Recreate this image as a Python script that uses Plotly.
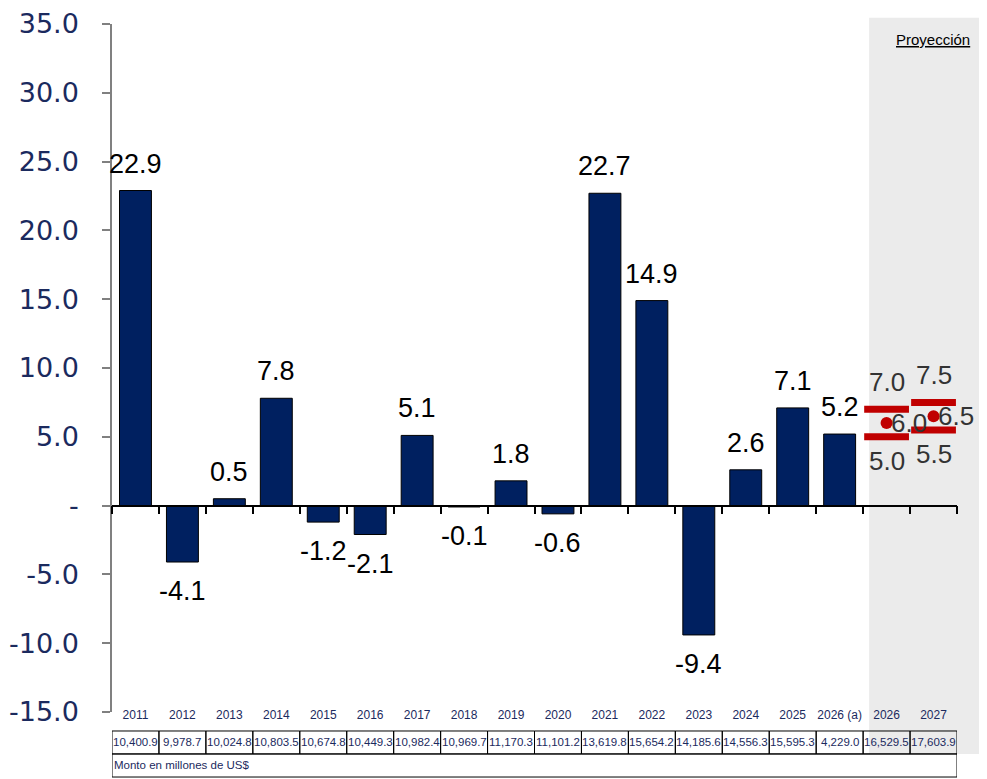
import plotly.graph_objects as go

# ---------------------------------------------------------------------------
# Data
# ---------------------------------------------------------------------------
YEARS = ["2011", "2012", "2013", "2014", "2015", "2016", "2017", "2018", "2019",
         "2020", "2021", "2022", "2023", "2024", "2025", "2026 (a)", "2026", "2027"]
GROWTH = [22.9, -4.1, 0.5, 7.8, -1.2, -2.1, 5.1, -0.1, 1.8,
          -0.6, 22.7, 14.9, -9.4, 2.6, 7.1, 5.2]
AMOUNTS = ["10,400.9", "9,978.7", "10,024.8", "10,803.5", "10,674.8", "10,449.3",
           "10,982.4", "10,969.7", "11,170.3", "11,101.2", "13,619.8", "15,654.2",
           "14,185.6", "14,556.3", "15,595.3", "4,229.0", "16,529.5", "17,603.9"]
PROJ_LOW = [5.0, 5.5]
PROJ_MID = [6.0, 6.5]
PROJ_HIGH = [7.0, 7.5]
Y_TICKS = [-15, -10, -5, 0, 5, 10, 15, 20, 25, 30, 35]
TABLE_NOTE = "Monto en millones de US$"

# ---------------------------------------------------------------------------
# Styles
# ---------------------------------------------------------------------------
NAVY = "#002060"
TEXT_NAVY = "#1B2A5E"
RED = "#C00000"
SHADE = "#EBEBEB"
PROJ_TEXT = "#333333"
FONT = "Liberation Sans, Arial, sans-serif"

Y_MIN, Y_MAX = -15, 35
idx = list(range(len(YEARS)))
bar_x = idx[:len(GROWTH)]
proj_x = idx[len(GROWTH):]
zero_pos = (0 - Y_MIN) / (Y_MAX - Y_MIN)

fig = go.Figure()

fig.add_trace(go.Bar(
    x=bar_x, y=GROWTH,
    width=0.68,
    marker=dict(color=NAVY, line=dict(color="black", width=1)),
    hoverinfo="x+y",
    showlegend=False,
))

# projection range: low / high bars, central dot
for vals in (PROJ_HIGH, PROJ_LOW):
    fig.add_trace(go.Scatter(
        x=proj_x, y=vals, mode="markers", cliponaxis=False,
        marker=dict(symbol="line-ew", size=32, line=dict(color=RED, width=7)),
        showlegend=False,
    ))
fig.add_trace(go.Scatter(
    x=proj_x, y=PROJ_MID, mode="markers", cliponaxis=False,
    marker=dict(symbol="circle", size=12, color=RED),
    showlegend=False,
))

# helper trace so the zero-line axis (x2) gets drawn
fig.add_trace(go.Scatter(
    x=bar_x, y=GROWTH, xaxis="x2", mode="markers",
    marker=dict(opacity=0), hoverinfo="skip", showlegend=False,
))

# value labels on bars
for x, v in zip(bar_x, GROWTH):
    fig.add_annotation(
        x=x, y=v, text=f"{v:.1f}", showarrow=False,
        yanchor="bottom" if v >= 0 else "top",
        yshift=10 if v >= 0 else -12,
        font=dict(size=27, color="black", family=FONT),
    )

# projection labels
proj_font = dict(size=26, color=PROJ_TEXT, family=FONT)
for x, lo, mid, hi in zip(proj_x, PROJ_LOW, PROJ_MID, PROJ_HIGH):
    fig.add_annotation(x=x, y=hi, text=f"{hi:.1f}", showarrow=False,
                       yanchor="bottom", yshift=10, font=proj_font)
    fig.add_annotation(x=x, y=lo, text=f"{lo:.1f}", showarrow=False,
                       yanchor="top", yshift=-7, font=proj_font)
    fig.add_annotation(x=x, y=mid, text=f"{mid:.1f}", showarrow=False,
                       xanchor="left", yanchor="middle", xshift=2, font=proj_font)

# projection shading
row1_top, row1_bot, row2_bot = -0.0276, -0.061, -0.0945
fig.add_shape(type="rect", layer="below", xref="paper", yref="paper",
              x0=0.896, x1=1.04, y0=row1_bot, y1=1.009,
              fillcolor=SHADE, line=dict(width=0))
fig.add_annotation(xref="paper", yref="paper", x=0.9716, y=0.977,
                   xanchor="center", yanchor="middle",
                   text="<u>Proyección</u>", showarrow=False,
                   font=dict(size=15, color="black", family=FONT))

# amounts table under the axis
for x, amt in zip(idx, AMOUNTS):
    fig.add_shape(type="rect", xref="x", yref="paper",
                  x0=x - 0.5, x1=x + 0.5, y0=row1_bot, y1=row1_top,
                  line=dict(color="black", width=1))
    fig.add_annotation(xref="x", yref="paper", x=x, y=(row1_top + row1_bot) / 2,
                       text=amt, showarrow=False, yanchor="middle",
                       font=dict(size=11.5, color=TEXT_NAVY, family=FONT))
fig.add_shape(type="rect", xref="x", yref="paper",
              x0=idx[0] - 0.5, x1=idx[-1] + 0.5, y0=row2_bot, y1=row1_bot,
              line=dict(color="black", width=1))
fig.add_annotation(xref="x", yref="paper", x=idx[0] - 0.5, y=(row1_bot + row2_bot) / 2,
                   text=TABLE_NOTE, showarrow=False, xanchor="left", yanchor="middle",
                   font=dict(size=11.5, color=TEXT_NAVY, family=FONT))

# page body has an 8px margin, so the figure is shrunk and the
# left/top margins reduced to keep the plot area at the same spot
fig.update_layout(
    width=979, height=771,
    margin=dict(l=104, r=30, t=16, b=67),
    plot_bgcolor="white", paper_bgcolor="white",
    font=dict(family=FONT),
    xaxis=dict(
        range=[-0.5, len(YEARS) - 0.5],
        tickvals=idx, ticktext=YEARS,
        tickfont=dict(size=12, color=TEXT_NAVY, family=FONT),
        showline=False, showgrid=False, zeroline=False, ticks="",
        ticklabelstandoff=-6, automargin=False,
    ),
    xaxis2=dict(
        overlaying="x", anchor="free", position=zero_pos,
        range=[-0.5, len(YEARS) - 0.5],
        tickvals=[i - 0.5 for i in idx] + [idx[-1] + 0.5],
        showticklabels=False,
        showline=True, linecolor="black", linewidth=1.5,
        ticks="outside", ticklen=8, tickcolor="black", tickwidth=1.5,
        showgrid=False, zeroline=False, automargin=False,
    ),
    yaxis=dict(
        range=[Y_MIN, Y_MAX],
        tickvals=Y_TICKS,
        ticktext=["-" if t == 0 else f"{t:.1f}" for t in Y_TICKS],
        tickfont=dict(size=27, color=TEXT_NAVY, family="DejaVu Sans, sans-serif"),
        showline=True, linecolor="#808080", linewidth=1.5,
        ticks="outside", ticklen=8, tickcolor="#808080", tickwidth=1.5,
        showgrid=False, zeroline=False,
        ticklabelstandoff=18, automargin=False,
    ),
    bargap=0.3,
)

fig.write_html("out.html")
